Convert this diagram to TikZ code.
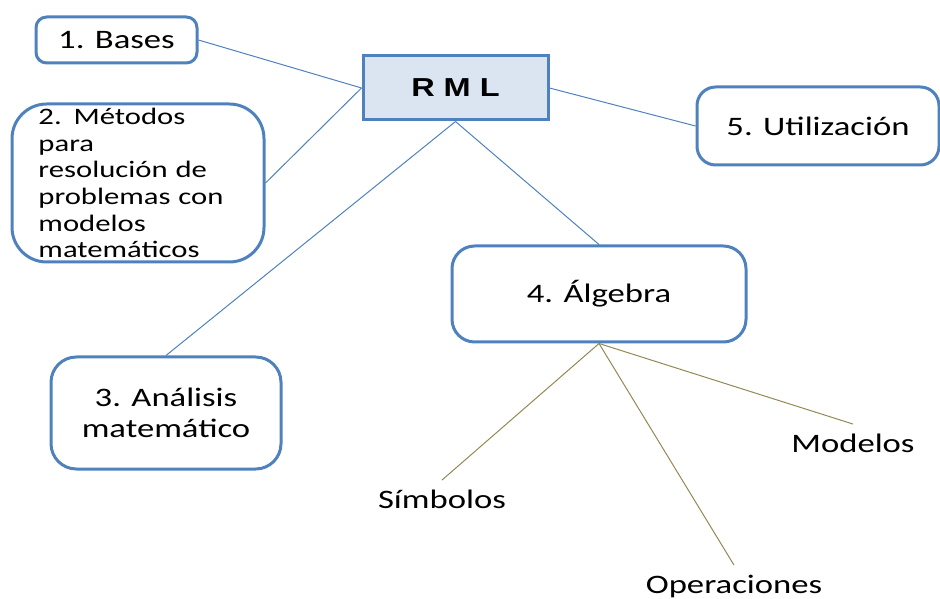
\documentclass[tikz,border=0pt]{standalone}
\usepackage{fontspec}
\setmainfont{Carlito}[FakeStretch=1.3]
\newfontfamily\rmlfont{Liberation Sans}[FakeStretch=1.25]
\usetikzlibrary{positioning}

\definecolor{boxblue}{RGB}{79,129,189}
\definecolor{rmlfill}{RGB}{219,229,241}
\definecolor{leafolive}{RGB}{147,137,83}

\tikzset{
  topic/.style={draw=boxblue, line width=2.25pt, align=center, inner sep=0pt,
    font=\fontsize{20pt}{23.25pt}\selectfont},
  leaf/.style={inner sep=7pt, font=\fontsize{20pt}{23.25pt}\selectfont},
  link/.style={draw=boxblue, line width=0.75pt},
  sublink/.style={draw=leafolive, line width=0.75pt},
}

\begin{document}
\begin{tikzpicture}[x=0.75pt,y=0.75pt,yscale=-1,xscale=1]
\useasboundingbox (0,0) rectangle (940,599);

% centre box
\node[topic, fill=rmlfill, minimum width=138.75pt, minimum height=48pt,
  font=\rmlfont\bfseries\fontsize{19.5pt}{20pt}\selectfont] (rml) at (455.5,88) {R M L};

% topics
\node[topic, rounded corners=8pt, minimum width=120.75pt, minimum height=34.5pt] (bases) at (116.5,40) {1. Bases};
\node[topic, rounded corners=26pt, minimum width=189pt, minimum height=118.5pt,
  text width=149.25pt, align=left, font=\fontsize{17.7pt}{20pt}\selectfont] (metodos) at (138,183)
  {2. Métodos\\para\\resolución de\\problemas con\\modelos\\matemáticos};
\node[topic, rounded corners=19pt, minimum width=172.5pt, minimum height=84pt] (analisis) at (166,413) {3. Análisis\\matemático};
\node[topic, rounded corners=17pt, minimum width=220.5pt, minimum height=72pt] (algebra) at (599,294) {4. Álgebra};
\node[topic, rounded corners=14pt, minimum width=181.5pt, minimum height=58.5pt] (utilizacion) at (818,126) {5. Utilización};

% leaves of 4
\node[leaf] (simbolos) at (442,499) {Símbolos};
\node[leaf] (operaciones) at (734,586) {Operaciones};
\node[leaf] (modelos) at (853,443) {Modelos};

% connectors
\draw[link] (bases.east) -- (rml.west);
\draw[link] (metodos.east) -- (rml.west);
\draw[link] (rml.south) -- (analisis.north);
\draw[link] (rml.south) -- (algebra.north);
\draw[link] (rml.east) -- (utilizacion.west);

\draw[sublink] (algebra.south) -- (simbolos.north);
\draw[sublink] (algebra.south) -- (operaciones.north);
\draw[sublink] (algebra.south) -- (modelos.north);

\end{tikzpicture}
\end{document}
